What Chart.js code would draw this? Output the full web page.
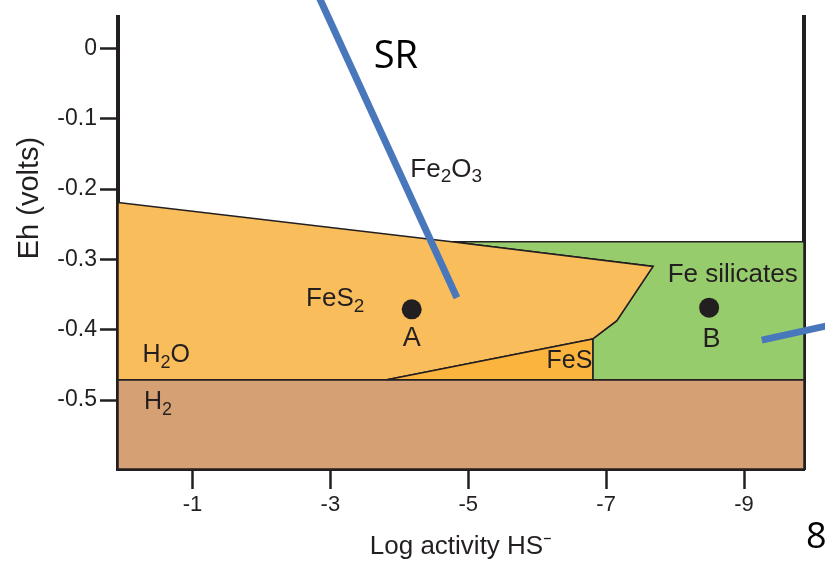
<!DOCTYPE html>
<html>
<head>
<meta charset="utf-8">
<script src="https://cdn.jsdelivr.net/npm/chart.js@4.4.1/dist/chart.umd.min.js"></script>
<style>
  html, body { margin: 0; padding: 0; background: #fff; }
</style>
</head>
<body>
<canvas id="chartEh" width="825" height="563"></canvas>
<script>
// Ejes: log actividad HS- (x) y Eh en voltios (y)
const xTicks = [-1, -3, -5, -7, -9];
const yTicks = [0, -0.1, -0.2, -0.3, -0.4, -0.5];
const xRange = [-9.87, 0.08];
const yRange = [-0.598, 0.045];

// Campos de estabilidad [log HS-, Eh]
const fieldH2 = [[0.08, -0.471], [-9.87, -0.471], [-9.87, -0.598], [0.08, -0.598], [0.08, -0.471]];
const fieldFeS2 = [[0.08, -0.219], [-4.76, -0.275], [-7.68, -0.310], [-7.155, -0.387], [-6.807, -0.413], [-3.82, -0.471], [0.08, -0.471], [0.08, -0.219]];
const fieldFeS = [[-3.82, -0.471], [-6.807, -0.413], [-6.807, -0.471], [-3.82, -0.471]];
const fieldSilicates = [[-4.76, -0.275], [-9.87, -0.275], [-9.87, -0.471], [-6.807, -0.471], [-6.807, -0.413], [-7.155, -0.387], [-7.68, -0.310], [-4.76, -0.275]];

// Muestras A y B
const samples = [[-4.18, -0.371], [-8.494, -0.3686]];

// Trazos azules superpuestos
const arrowSR = [[-2.843, 0.0715], [-4.836, -0.3546]];
const arrowB = [[-9.257, -0.4147], [-10.387, -0.3905]];

const toXY = arr => arr.map(p => ({ x: p[0], y: p[1] }));
const INK = "#231f20";
const FONT = "'Liberation Sans', Arial, sans-serif";

// Etiquetas de los campos
const etiquetas = [
  { parts: [["H", 0], ["2", 1], ["O", 0]], x: -0.619, y: -0.436, size: 25 },
  { parts: [["H", 0], ["2", 1]], x: -0.50, y: -0.503, size: 25 },
  { parts: [["FeS", 0], ["2", 1]], x: -3.07, y: -0.356, size: 26 },
  { parts: [["Fe", 0], ["2", 1], ["O", 0], ["3", 1]], x: -4.68, y: -0.172, size: 26 },
  { parts: [["FeS", 0]], x: -6.467, y: -0.444, size: 25 },
  { parts: [["Fe silicates", 0]], x: -8.836, y: -0.322, size: 26 },
  { parts: [["A", 0]], x: -4.18, y: -0.413, size: 27 },
  { parts: [["B", 0]], x: -8.53, y: -0.414, size: 27 },
];

function drawRich(ctx, parts, cx, cy, size) {
  const sub = Math.round(size * 0.72);
  let w = 0;
  parts.forEach(([t, s]) => {
    ctx.font = (s ? sub : size) + "px " + FONT;
    w += ctx.measureText(t).width;
  });
  let x = cx - w / 2;
  ctx.textAlign = "left";
  ctx.textBaseline = "middle";
  parts.forEach(([t, s]) => {
    ctx.font = (s ? sub : size) + "px " + FONT;
    ctx.fillText(t, x, cy + (s ? size * 0.3 : 0));
    x += ctx.measureText(t).width;
  });
}

const textosPlugin = {
  id: "textos",
  afterDatasetsDraw(chart) {
    const { ctx, scales: { x, y } } = chart;
    ctx.save();
    ctx.fillStyle = INK;
    etiquetas.forEach(e => drawRich(ctx, e.parts, x.getPixelForValue(e.x), y.getPixelForValue(e.y), e.size));

    // titulo del eje y
    ctx.save();
    ctx.translate(30, 198);
    ctx.rotate(-Math.PI / 2);
    ctx.textAlign = "center";
    ctx.textBaseline = "middle";
    ctx.font = "29px " + FONT;
    ctx.fillText("Eh (volts)", 0, 0);
    ctx.restore();

    // anotaciones de la diapositiva
    ctx.fillStyle = "#000";
    ctx.textAlign = "center";
    ctx.textBaseline = "middle";
    ctx.font = "38px 'Open Sans', sans-serif";
    ctx.fillText("SR", x.getPixelForValue(-3.95), y.getPixelForValue(-0.0123));
    ctx.textAlign = "left";
    ctx.font = "36px 'Open Sans', sans-serif";
    ctx.fillText("8", 806, 538);
    ctx.restore();
  }
};

function campo(data, color) {
  return {
    data: toXY(data),
    showLine: true,
    fill: "shape",
    backgroundColor: color,
    borderColor: INK,
    borderWidth: 1.5,
    pointRadius: 0,
    clip: 0,
  };
}

const ctx = document.getElementById("chartEh");

new Chart(ctx, {
  type: "scatter",
  data: {
    datasets: [
      {
        data: toXY(samples),
        pointRadius: 10,
        pointBackgroundColor: INK,
        pointBorderWidth: 0,
        showLine: false,
      },
      {
        data: toXY(arrowSR),
        showLine: true,
        borderColor: "#4878bb",
        borderWidth: 7,
        pointRadius: 0,
        clip: false,
      },
      {
        data: toXY(arrowB),
        showLine: true,
        borderColor: "#4878bb",
        borderWidth: 7,
        pointRadius: 0,
        clip: false,
      },
      campo(fieldFeS, "#fbb53e"),
      campo(fieldFeS2, "#fabd5c"),
      campo(fieldSilicates, "#97cc6d"),
      campo(fieldH2, "#d5a174"),
    ],
  },
  options: {
    responsive: false,
    animation: false,
    layout: { padding: { top: 9, left: 0, right: 0, bottom: 0 } },
    plugins: {
      legend: { display: false },
      tooltip: { enabled: false },
    },
    scales: {
      x: {
        type: "linear",
        reverse: true,
        min: xRange[0],
        max: xRange[1],
        afterBuildTicks: s => { s.ticks = xTicks.map(v => ({ value: v })); },
        afterFit: s => { s.height = 94; },
        ticks: {
          callback: v => String(v),
          font: { family: FONT, size: 22 },
          color: INK,
          padding: 3,
          maxRotation: 0,
          autoSkip: false,
        },
        grid: { drawOnChartArea: false, drawTicks: true, tickLength: 20, tickWidth: 2.5, tickColor: INK },
        border: { display: true, width: 4, color: INK },
        title: {
          display: true,
          text: "Log activity HS\u207B",
          font: { family: FONT, size: 26 },
          color: INK,
          padding: { top: 0, bottom: 1 },
        },
      },
      y: {
        type: "linear",
        min: yRange[0],
        max: yRange[1],
        afterBuildTicks: s => { s.ticks = yTicks.map(v => ({ value: v })); },
        afterFit: s => { s.width = 118; },
        ticks: {
          callback: v => (v === 0 ? "0" : v.toFixed(1)),
          font: { family: FONT, size: 23 },
          color: INK,
          padding: 3,
        },
        grid: { drawOnChartArea: false, drawTicks: true, tickLength: 18, tickWidth: 2.5, tickColor: INK },
        border: { display: true, width: 4, color: INK },
      },
      yR: {
        type: "linear",
        position: "right",
        min: yRange[0],
        max: yRange[1],
        afterBuildTicks: s => { s.ticks = []; },
        afterFit: s => { s.width = 21; },
        ticks: { display: false },
        grid: { drawOnChartArea: false, drawTicks: false },
        border: { display: true, width: 4, color: INK },
      },
    },
  },
  plugins: [textosPlugin],
});
</script>
</body>
</html>
